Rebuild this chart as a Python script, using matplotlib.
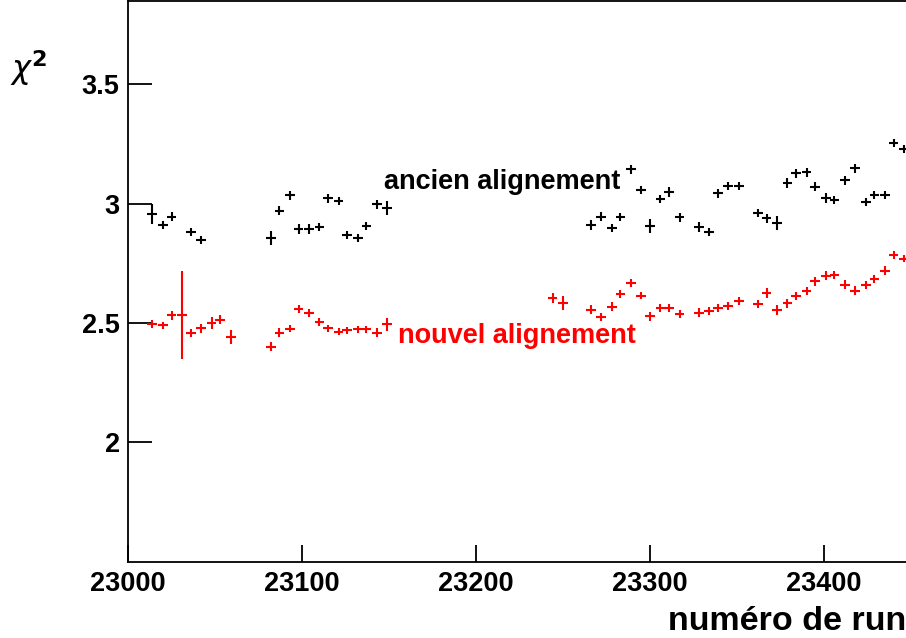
import matplotlib
matplotlib.use("Agg")
import matplotlib.pyplot as plt

plt.rcParams['font.family'] = ['Liberation Sans', 'DejaVu Sans']

# ancien alignement (black)
run_old = [23014, 23020, 23025, 23036, 23042, 23082, 23087, 23093, 23098, 23104,
           23110, 23115, 23121, 23126, 23132, 23137, 23143, 23149,
           23266, 23272, 23278, 23283, 23289, 23295, 23300, 23306, 23311, 23317,
           23328, 23334, 23339, 23345, 23351, 23362, 23367, 23373, 23379, 23384,
           23390, 23395, 23401, 23406, 23412, 23418, 23424, 23429, 23435, 23440,
           23446]
chi2_old = [2.957, 2.91, 2.946, 2.88, 2.848, 2.857, 2.97, 3.036, 2.894, 2.894,
            2.904, 3.022, 3.01, 2.87, 2.857, 2.907, 2.997, 2.982,
            2.911, 2.946, 2.898, 2.946, 3.145, 3.059, 2.908, 3.018, 3.051, 2.943,
            2.904, 2.88, 3.043, 3.075, 3.075, 2.96, 2.94, 2.918, 3.087, 3.128,
            3.131, 3.071, 3.024, 3.017, 3.099, 3.149, 3.007, 3.038, 3.038, 3.256,
            3.229]
err_old = [0.042, 0.017, 0.019, 0.017, 0.017, 0.03, 0.019, 0.019, 0.019, 0.019,
           0.017, 0.017, 0.017, 0.017, 0.017, 0.017, 0.019, 0.03,
           0.021, 0.019, 0.017, 0.017, 0.019, 0.017, 0.03, 0.017, 0.021, 0.019,
           0.021, 0.017, 0.017, 0.017, 0.017, 0.017, 0.019, 0.03, 0.019, 0.019,
           0.019, 0.019, 0.019, 0.017, 0.019, 0.019, 0.017, 0.017, 0.017, 0.017,
           0.017]

# nouvel alignement (red)
run_new = [23014, 23020, 23025, 23031, 23036, 23042, 23048, 23053, 23059,
           23082, 23087, 23093, 23098, 23104, 23110, 23115, 23121, 23126, 23132,
           23137, 23143, 23149,
           23244, 23250, 23266, 23272, 23278, 23283, 23289, 23295, 23300, 23306,
           23311, 23317, 23328, 23334, 23339, 23345, 23351, 23362, 23367, 23373,
           23379, 23384, 23390, 23395, 23401, 23406, 23412, 23418, 23424, 23429,
           23435, 23440, 23446]
chi2_new = [2.495, 2.49, 2.533, 2.533, 2.457, 2.477, 2.50, 2.513, 2.44,
            2.40, 2.46, 2.476, 2.557, 2.543, 2.503, 2.477, 2.464, 2.469, 2.474,
            2.474, 2.46, 2.494,
            2.604, 2.585, 2.556, 2.524, 2.569, 2.622, 2.668, 2.615, 2.528, 2.564,
            2.562, 2.538, 2.543, 2.549, 2.562, 2.57, 2.594, 2.58, 2.626, 2.556,
            2.583, 2.612, 2.633, 2.674, 2.699, 2.703, 2.661, 2.636, 2.661, 2.685,
            2.72, 2.785, 2.769]
err_new = [0.017, 0.015, 0.019, 0.186, 0.017, 0.017, 0.027, 0.019, 0.03,
           0.019, 0.017, 0.015, 0.017, 0.017, 0.017, 0.015, 0.015, 0.015, 0.015,
           0.015, 0.017, 0.027,
           0.021, 0.03, 0.019, 0.017, 0.017, 0.017, 0.017, 0.015, 0.019, 0.017,
           0.017, 0.017, 0.019, 0.017, 0.017, 0.017, 0.017, 0.017, 0.021, 0.021,
           0.019, 0.017, 0.017, 0.017, 0.017, 0.017, 0.019, 0.017, 0.017, 0.017,
           0.017, 0.015, 0.015]

x_ticks = [23000, 23100, 23200, 23300, 23400]
y_ticks = [2, 2.5, 3, 3.5]

fig = plt.figure(figsize=(9.06, 6.38), dpi=100)
# the pad is cut on the right: axes go past the image edge
ax = fig.add_axes([128 / 906, (638 - 561.5) / 638, 870 / 906, 560.5 / 638])

ax.errorbar(run_old, chi2_old, yerr=err_old, xerr=2.8, fmt='none',
            ecolor='black', elinewidth=1.5, capsize=0)
ax.errorbar(run_new, chi2_new, yerr=err_new, xerr=2.8, fmt='none',
            ecolor='#ff0000', elinewidth=1.5, capsize=0)

ax.set_xlim(23000, 23500)
ax.set_ylim(1.5, 3.85)
ax.set_xticks(x_ticks)
ax.set_yticks(y_ticks)
ax.set_xticklabels([str(t) for t in x_ticks])
ax.set_yticklabels(['2', '2.5', '3', '3.5'])
ax.tick_params(axis='both', direction='in', width=1.3, labelsize=19.5)
ax.tick_params(axis='y', length=17, pad=6)
ax.tick_params(axis='x', length=12, pad=7)
for lab in ax.get_xticklabels() + ax.get_yticklabels():
    lab.set_fontweight('bold')
for sp in ax.spines.values():
    sp.set_linewidth(1.3)

ax.text(23147, 3.09, 'ancien alignement', fontsize=19.5, fontweight='bold',
        color='black', va='center', ha='left')
ax.text(23155, 2.445, 'nouvel alignement', fontsize=19.5, fontweight='bold',
        color='#ff0000', va='center', ha='left')

fig.text(10 / 906, 1 - 68 / 638, r'$\chi^{\mathbf{2}}$', fontsize=23,
         va='center', ha='left')
fig.text(1.0, 1 - 622 / 638, 'numéro de run', fontsize=24.5, fontweight='bold',
         va='center', ha='right')

fig.savefig('out.png', dpi=100)
